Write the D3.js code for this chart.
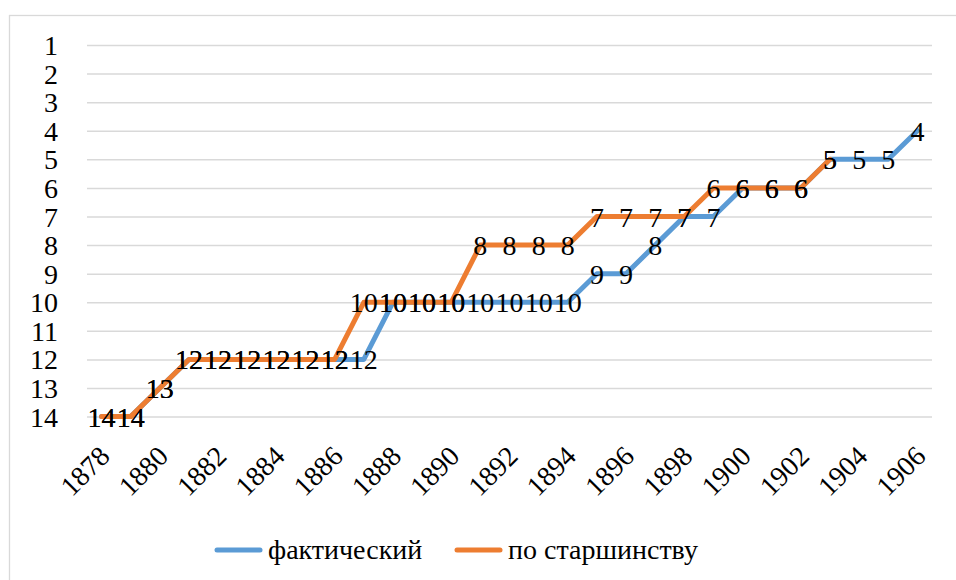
<!DOCTYPE html>
<html>
<head>
<meta charset="utf-8">
<script src="https://cdn.jsdelivr.net/npm/d3@7"></script>
<style>
  body { margin: 0; background: #fff; }
</style>
</head>
<body>
<div id="root"></div>
<script>
const years = d3.range(1878, 1907);
const yearTicks = [1878, 1880, 1882, 1884, 1886, 1888, 1890, 1892, 1894, 1896, 1898, 1900, 1902, 1904, 1906];
const rankTicks = [1, 2, 3, 4, 5, 6, 7, 8, 9, 10, 11, 12, 13, 14];

// фактический
const actual = [14, 14, 13, 12, 12, 12, 12, 12, 12, 12, 10, 10, 10, 10, 10, 10, 10, 9, 9, 8, 7, 7, 6, 6, 6, 5, 5, 5, 4];
// по старшинству
const seniority = [14, 14, 13, 12, 12, 12, 12, 12, 12, 10, 10, 10, 10, 8, 8, 8, 8, 7, 7, 7, 7, 6, 6, 6, 6, 5, null, null, null];

const seriesNames = ["фактический", "по старшинству"];
const colors = ["#5B9BD5", "#ED7D31"];

const width = 956;
const height = 580;
const serif = "'Liberation Serif', monospace";

const svg = d3.select("#root")
  .append("svg")
  .attr("width", width)
  .attr("height", height);

// chart border
svg.append("rect")
  .attr("x", 9.5)
  .attr("y", 15.5)
  .attr("width", 1000)
  .attr("height", 1000)
  .attr("fill", "#fff")
  .attr("stroke", "#D9D9D9")
  .attr("stroke-width", 1.3);

const x = d3.scaleBand().domain(years).range([87, 932]).padding(0);
const cx = d => x(d) + x.bandwidth() / 2;
const y = d3.scaleLinear().domain([1, 14]).range([45, 416.6]);

// gridlines
svg.append("g")
  .attr("class", "grid")
  .attr("transform", "translate(87,0)")
  .call(d3.axisLeft(y).tickValues(rankTicks).tickSize(-(932 - 87)).tickFormat(""))
  .call(g => g.select(".domain").remove())
  .call(g => g.selectAll("line").attr("stroke", "#D9D9D9").attr("stroke-width", 1.5));

// y axis labels
svg.selectAll(".ylab")
  .data(rankTicks)
  .join("text")
  .attr("class", "ylab")
  .attr("x", 58)
  .attr("y", d => y(d) + 10)
  .attr("text-anchor", "end")
  .attr("font-size", 28)
  .style("font-family", serif)
  .text(d => d);

// x axis labels
const xAxis = svg.append("g")
  .attr("id", "x-axis")
  .attr("transform", "translate(0,451)")
  .call(d3.axisBottom(x).tickValues(yearTicks).tickSize(0))
  .call(g => g.select(".domain").remove())
  .call(g => g.attr("font-family", null).attr("font-size", null).style("font-family", serif));

xAxis.selectAll("text")
  .style("font-family", serif)
  .attr("font-size", 28)
  .attr("fill", "#000")
  .attr("text-anchor", "end")
  .attr("dy", "0.35em")
  .attr("y", 0)
  .attr("x", 0)
  .attr("transform", "translate(3,0) rotate(-45)");

// lines
const line = d3.line()
  .defined(d => d.v != null)
  .x(d => cx(d.year))
  .y(d => y(d.v));

const series = [actual, seniority].map((vals, i) => ({
  name: seriesNames[i],
  color: colors[i],
  points: years.map((yr, j) => ({ year: yr, v: vals[j] }))
}));

svg.selectAll(".series")
  .data(series)
  .join("path")
  .attr("class", "series")
  .attr("d", d => line(d.points))
  .attr("fill", "none")
  .attr("stroke", d => d.color)
  .attr("stroke-width", 5)
  .attr("stroke-linejoin", "round")
  .attr("stroke-linecap", "round");

// data labels
const labelData = series.flatMap(s => s.points.filter(p => p.v != null));
svg.selectAll(".dlab")
  .data(labelData)
  .join("text")
  .attr("class", "dlab")
  .attr("x", p => cx(p.year))
  .attr("y", p => y(p.v) + 10)
  .attr("text-anchor", "middle")
  .attr("font-size", 28)
  .style("font-family", serif)
  .text(p => p.v);

// legend
const legendX = [215, 455];
svg.selectAll(".legline")
  .data(series)
  .join("line")
  .attr("class", "legline")
  .attr("x1", (d, i) => legendX[i] + 2)
  .attr("x2", (d, i) => legendX[i] + 45)
  .attr("y1", 550)
  .attr("y2", 550)
  .attr("stroke", d => d.color)
  .attr("stroke-width", 5)
  .attr("stroke-linecap", "round");

svg.selectAll(".legtext")
  .data(series)
  .join("text")
  .attr("class", "legtext")
  .attr("x", (d, i) => legendX[i] + 53)
  .attr("y", 559)
  .attr("font-size", 28)
  .style("font-family", serif)
  .text(d => d.name);
</script>
</body>
</html>
